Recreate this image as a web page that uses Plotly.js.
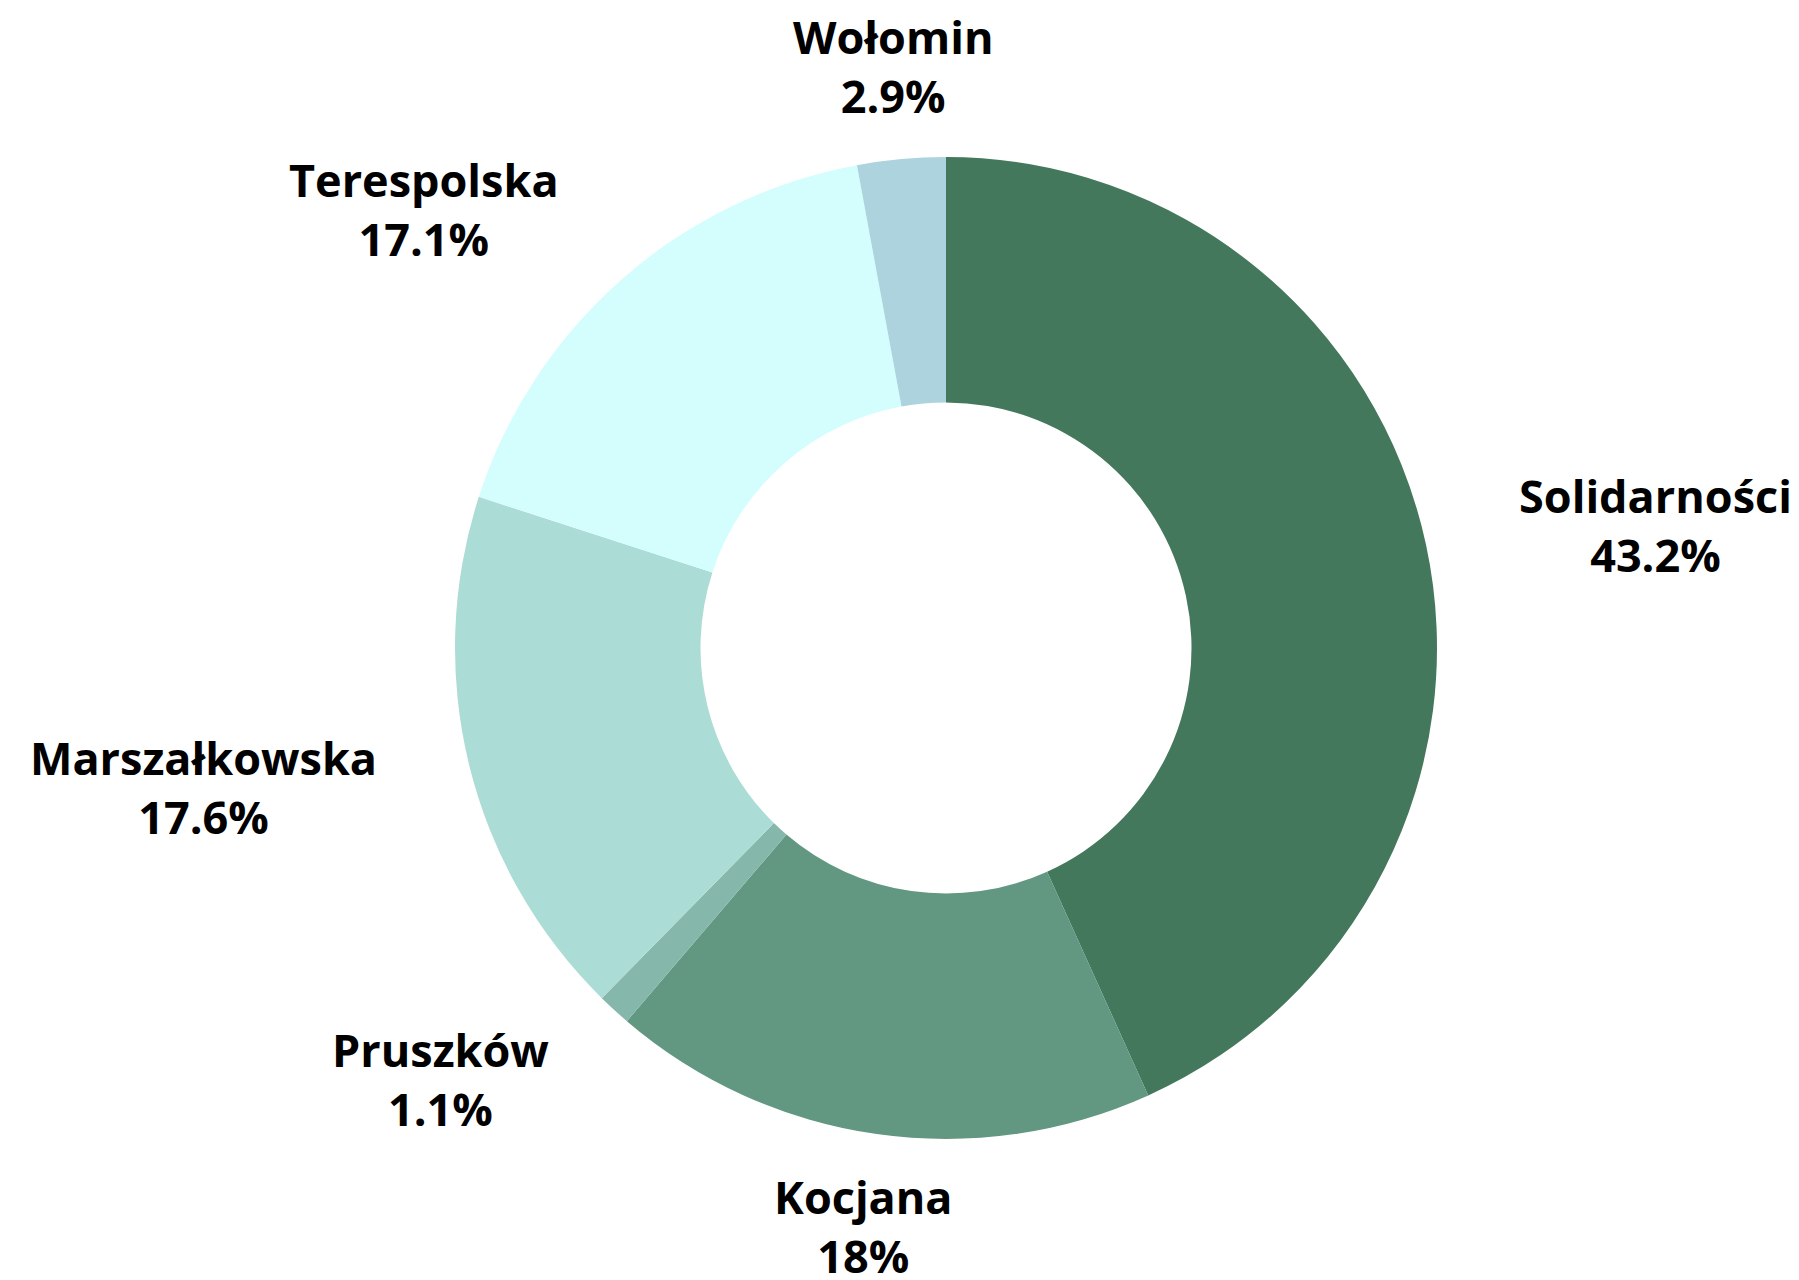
<!DOCTYPE html>
<html>
<head>
<meta charset="utf-8">
<script src="https://cdn.plot.ly/plotly-3.0.1.min.js"></script>
<style>html,body{margin:0;padding:0;background:#fff;}#chart{width:1799px;height:1280px;}</style>
</head>
<body>
<div id="chart"></div>
<script>
const labels = ["Solidarności", "Kocjana", "Pruszków", "Marszałkowska", "Terespolska", "Wołomin"];
const values = [43.2, 18, 1.1, 17.6, 17.1, 2.9];
const colors = ["#43785c", "#629782", "#85b8aa", "#acdcd6", "#d4fefe", "#acd3de"];

const W = 1799, H = 1280;
const margin = {l: 455, r: 362, t: 157, b: 141};
const plotW = W - margin.l - margin.r;
const plotH = H - margin.t - margin.b;
const labelRadiusFactor = 1.19; // label anchor distance relative to outer radius

const total = values.reduce((a, b) => a + b, 0);
const fmtPct = v => parseFloat((v / total * 100).toPrecision(3)) + "%";

let cum = 0;
const annotations = values.map((v, i) => {
  const mid = (cum + v / 2) / total;
  cum += v;
  const theta = 2 * Math.PI * mid; // clockwise from 12 o'clock
  const s = Math.sin(theta), c = Math.cos(theta);
  const rx = labelRadiusFactor * 0.5 * plotW / plotW * (plotW / plotW);
  const r = labelRadiusFactor * 0.5; // in units of plot side
  let xanchor = "center";
  if (Math.abs(s) >= 0.3) xanchor = s > 0 ? "left" : "right";
  return {
    xref: "paper", yref: "paper",
    x: 0.5 + r * s * (Math.min(plotW, plotH) / plotW),
    y: 0.5 + r * c * (Math.min(plotW, plotH) / plotH),
    xanchor: xanchor, yanchor: "middle",
    align: "center",
    showarrow: false,
    text: labels[i] + "<br>" + fmtPct(v),
    font: {family: "Open Sans", size: 45, color: "#000000", weight: 700}
  };
});

Plotly.newPlot("chart", [{
  type: "pie",
  labels: labels,
  values: values,
  hole: 0.5,
  sort: false,
  direction: "clockwise",
  rotation: 0,
  marker: {colors: colors, line: {width: 0}},
  textinfo: "none",
  hoverinfo: "label+percent",
  showlegend: false,
  automargin: false
}], {
  width: W,
  height: H,
  margin: margin,
  paper_bgcolor: "#ffffff",
  plot_bgcolor: "#ffffff",
  showlegend: false,
  annotations: annotations
}, {staticPlot: true, displayModeBar: false});
</script>
</body>
</html>
